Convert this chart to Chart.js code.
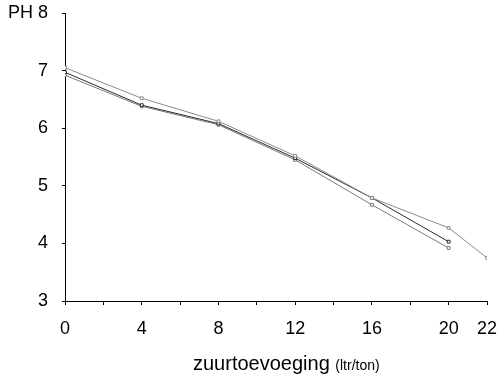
<!DOCTYPE html>
<html>
<head>
<meta charset="utf-8">
<script src="https://cdn.jsdelivr.net/npm/chart.js@4"></script>
<style>
  html, body { margin: 0; padding: 0; background: #fff; }
  #wrap { width: 500px; height: 375px; }
</style>
</head>
<body>
<div id="wrap"><canvas id="ph"></canvas></div>
<script>
// zuurtoevoeging in ltr/ton
const doses = [0, 4, 8, 12, 16, 20, 22];
const phA = [7.05, 6.52, 6.12, 5.52, 4.79, 4.27, 3.75];
const phB = [6.97, 6.40, 6.08, 5.48, 4.79, 4.03];
const phC = [6.92, 6.38, 6.06, 5.45, 4.67, 3.92];
const xLabels = [0, 4, 8, 12, 16, 20, 22];

const pts = vals => vals.map((v, i) => ({x: doses[i], y: v}));

const line = (vals, color) => ({
  data: pts(vals),
  borderColor: color,
  borderWidth: 1,
  pointStyle: 'rect',
  pointRadius: 2,
  pointBorderWidth: 1,
  pointBorderColor: color,
  pointBackgroundColor: '#fff',
  tension: 0
});

// as-title met twee lettergroottes
const axisTitle = {
  id: 'axisTitle',
  afterDraw(chart) {
    const ctx = chart.ctx;
    ctx.save();
    ctx.fillStyle = '#000';
    ctx.textBaseline = 'alphabetic';
    ctx.font = '20px "Liberation Sans", Arial, sans-serif';
    const main = 'zuurtoevoeging ';
    ctx.fillText(main, 193, 370);
    const w = ctx.measureText(main).width;
    ctx.font = '14px "Liberation Sans", Arial, sans-serif';
    ctx.fillText('(ltr/ton)', 193 + w, 370);
    ctx.restore();
  }
};

new Chart('ph', {
  type: 'line',
  data: {
    datasets: [line(phA, '#8a8a8a'), line(phB, '#2a2a2a'), line(phC, '#7a7a7a')]
  },
  plugins: [axisTitle],
  options: {
    responsive: true,
    maintainAspectRatio: false,
    animation: false,
    layout: { padding: { left: 0, right: 13, top: 13, bottom: 0 } },
    plugins: { legend: { display: false }, tooltip: { enabled: false } },
    scales: {
      x: {
        type: 'linear',
        min: 0,
        max: 22,
        afterFit(s) { s.height = 74; s.paddingLeft = 0; s.paddingRight = 0; },
        afterBuildTicks(s) {
          const t = [];
          for (let v = 0; v <= 22; v += 2) t.push({value: v});
          s.ticks = t;
        },
        border: { display: true, color: '#000', width: 1 },
        grid: { drawOnChartArea: false, drawTicks: true, tickLength: 4, color: '#000' },
        ticks: {
          color: '#000',
          padding: 13,
          maxRotation: 0,
          autoSkip: false,
          font: { family: '"Liberation Sans", Arial, sans-serif', size: 18 },
          callback: v => xLabels.includes(v) ? String(v) : ''
        }
      },
      y: {
        min: 3,
        max: 8,
        afterFit(s) { s.width = 65; s.paddingTop = 0; s.paddingBottom = 0; },
        border: { display: true, color: '#000', width: 1 },
        grid: { drawOnChartArea: false, drawTicks: true, tickLength: 3, color: '#000' },
        ticks: {
          stepSize: 1,
          color: '#000',
          padding: 14,
          font: { family: '"Liberation Sans", Arial, sans-serif', size: 18 },
          callback: v => v === 8 ? 'PH 8' : String(v)
        }
      }
    }
  }
});
</script>
</body>
</html>
